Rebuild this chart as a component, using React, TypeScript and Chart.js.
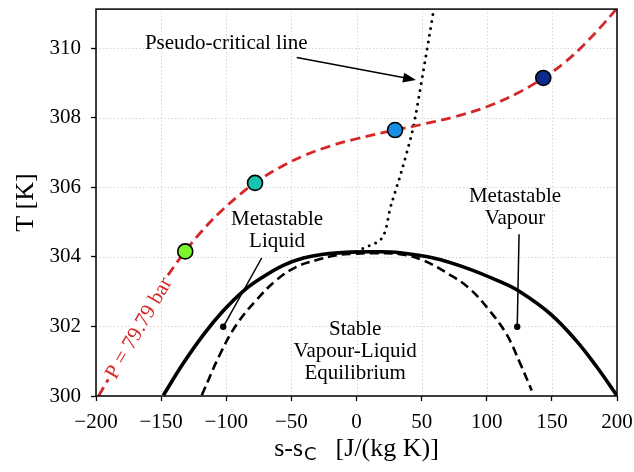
import React, { useEffect, useRef } from "react";
import { Chart, registerables } from "chart.js";

Chart.register(...registerables);

// ---- data ----
const isobarS = [-198, -185, -170, -155, -140, -131.5, -120, -105, -90, -77.9, -60, -40, -20, 0, 29.6, 50, 75, 100, 125, 143.4, 160, 175, 190, 200];
const isobarT = [300, 300.85, 301.93, 302.9, 303.73, 304.16, 304.69, 305.28, 305.78, 306.13, 306.55, 306.92, 307.19, 307.4, 307.65, 307.81, 308.03, 308.32, 308.74, 309.15, 309.6, 310.12, 310.72, 311.15];

const binodalS = [-148.3, -133, -117.6, -102.3, -86.9, -71.6, -56.2, -40.8, -25.5, -5, 15, 33.4, 59, 84.6, 110.2, 125.5, 148.6, 169, 184.4, 199.8];
const binodalT = [300.02, 300.94, 301.76, 302.45, 303.02, 303.43, 303.76, 303.97, 304.08, 304.14, 304.15, 304.12, 303.97, 303.68, 303.29, 303.0, 302.37, 301.58, 300.84, 300.02];

const spinodalS = [-118.8, -104.8, -92, -76.6, -61.3, -45.9, -30.6, -15.2, -2.5, 15, 33.4, 51.3, 72, 87.1, 102.5, 115.3, 125.5, 134.5];
const spinodalT = [300.02, 301.2, 302.06, 302.77, 303.34, 303.72, 303.91, 304.05, 304.09, 304.11, 304.08, 303.9, 303.48, 303.08, 302.44, 301.77, 300.95, 300.16];

const pseudoS = [0, 6.5, 13.4, 19, 22.5, 25.7, 29.5, 33.4, 38.5, 43.6, 51.3, 59, 60];
const pseudoT = [304.15, 304.27, 304.38, 304.52, 304.8, 305.37, 305.85, 306.32, 306.99, 307.74, 309.35, 311.06, 311.3];

const markerS = [-131.5, -77.9, 29.6, 143.4];
const markerT = [304.16, 306.13, 307.65, 309.15];
const markerColors = ["#7cf52a", "#17c3b0", "#178de3", "#0c2a8c"];

const xTicks = [-200, -150, -100, -50, 0, 50, 100, 150, 200];
const yTicks = [300, 302, 304, 306, 308, 310];

const isobarLabel = "P = 79.79 bar";
const isobarLabelPos = { s: -167.5, t: 301.96 };

const notes = [
  { lines: ["Pseudo-critical line"], s: -100, t: 309.97 },
  { lines: ["Metastable", "Liquid"], s: -61, t: 304.91 },
  { lines: ["Metastable", "Vapour"], s: 121.7, t: 305.59 },
  { lines: ["Stable", "Vapour-Liquid", "Equilibrium"], s: -1, t: 301.75 },
];

const arrowFrom = { s: -45.9, t: 309.74 };
const arrowTo = { s: 45.7, t: 309.09 };

const pointers = [
  { from: { s: -72.8, t: 303.97 }, to: { s: -102.3, t: 301.99 } },
  { from: { s: 124.8, t: 304.65 }, to: { s: 123.4, t: 301.99 } },
];

const toXY = (xs: number[], ys: number[]) => xs.map((x, i) => ({ x, y: ys[i] }));

const SERIF = "'Liberation Serif', 'Times New Roman', serif";

const overlayPlugin = {
  id: "overlay",
  beforeDatasetsDraw(chart: any) {
    const { ctx, chartArea, scales } = chart;
    const xs = scales.x, ys = scales.y;
    ctx.save();
    ctx.strokeStyle = "#cccccc";
    ctx.lineWidth = 1;
    ctx.setLineDash([1.2, 2.4]);
    xTicks.forEach((v) => {
      const px = Math.round(xs.getPixelForValue(v)) + 0.5;
      ctx.beginPath();
      ctx.moveTo(px, chartArea.top);
      ctx.lineTo(px, chartArea.bottom);
      ctx.stroke();
    });
    yTicks.forEach((v) => {
      const py = Math.round(ys.getPixelForValue(v)) + 0.5;
      ctx.beginPath();
      ctx.moveTo(chartArea.left, py);
      ctx.lineTo(chartArea.right, py);
      ctx.stroke();
    });
    ctx.restore();
  },
  afterDatasetsDraw(chart: any) {
    const { ctx, chartArea, scales } = chart;
    const xs = scales.x, ys = scales.y;
    const P = (p: { s: number; t: number }) => [xs.getPixelForValue(p.s), ys.getPixelForValue(p.t)];
    ctx.save();

    // isobar inline label
    const [lx, ly] = P(isobarLabelPos);
    ctx.save();
    ctx.translate(lx, ly);
    ctx.rotate((-60 * Math.PI) / 180);
    ctx.font = `21px ${SERIF}`;
    const w = ctx.measureText(isobarLabel).width;
    ctx.fillStyle = "#ffffff";
    ctx.fillRect(-w / 2 - 3, -6, w + 6, 12);
    ctx.fillStyle = "#d62728";
    ctx.textAlign = "center";
    ctx.textBaseline = "middle";
    ctx.fillText(isobarLabel, 0, 1);
    ctx.restore();

    // text notes
    ctx.fillStyle = "#000";
    ctx.font = `21px ${SERIF}`;
    ctx.textAlign = "center";
    ctx.textBaseline = "alphabetic";
    notes.forEach((n) => {
      const [nx, ny] = P(n);
      n.lines.forEach((l, i) => ctx.fillText(l, nx, ny + i * 22));
    });

    // arrow
    const [ax0, ay0] = P(arrowFrom);
    const [ax1, ay1] = P(arrowTo);
    const ang = Math.atan2(ay1 - ay0, ax1 - ax0);
    const hl = 13, hw = 5;
    ctx.strokeStyle = "#000";
    ctx.lineWidth = 1.6;
    ctx.beginPath();
    ctx.moveTo(ax0, ay0);
    ctx.lineTo(ax1 - Math.cos(ang) * hl * 0.8, ay1 - Math.sin(ang) * hl * 0.8);
    ctx.stroke();
    ctx.beginPath();
    ctx.moveTo(ax1, ay1);
    ctx.lineTo(ax1 - Math.cos(ang) * hl + Math.sin(ang) * hw, ay1 - Math.sin(ang) * hl - Math.cos(ang) * hw);
    ctx.lineTo(ax1 - Math.cos(ang) * hl - Math.sin(ang) * hw, ay1 - Math.sin(ang) * hl + Math.cos(ang) * hw);
    ctx.closePath();
    ctx.fillStyle = "#000";
    ctx.fill();

    // pointer lines with dots
    pointers.forEach((p) => {
      const [fx, fy] = P(p.from);
      const [tx, ty] = P(p.to);
      ctx.lineWidth = 1.5;
      ctx.beginPath();
      ctx.moveTo(fx, fy);
      ctx.lineTo(tx, ty);
      ctx.stroke();
      ctx.beginPath();
      ctx.arc(tx, ty, 3.2, 0, Math.PI * 2);
      ctx.fill();
    });

    // frame
    ctx.lineWidth = 1.5;
    ctx.strokeRect(chartArea.left, chartArea.top, chartArea.right - chartArea.left, chartArea.bottom - chartArea.top);

    // axis titles
    const cx = (chartArea.left + chartArea.right) / 2;
    const f1 = `26px ${SERIF}`;
    const f2 = `18px 'DejaVu Sans', sans-serif`;
    const a = "s-s", b = "C", c = "[J/(kg K)]";
    const gap = 20;
    ctx.font = f1;
    const wa = ctx.measureText(a).width;
    const wc = ctx.measureText(c).width;
    ctx.font = f2;
    const wb = ctx.measureText(b).width;
    const x0 = cx - (wa + wb + gap + wc) / 2;
    const base = chartArea.bottom + 60;
    ctx.textAlign = "left";
    ctx.textBaseline = "alphabetic";
    ctx.font = f1;
    ctx.fillText(a, x0, base);
    ctx.font = f2;
    ctx.fillText(b, x0 + wa + 1, base + 4);
    ctx.font = f1;
    ctx.fillText(c, x0 + wa + wb + gap, base);

    const cy = (chartArea.top + chartArea.bottom) / 2;
    ctx.save();
    ctx.translate(chartArea.left - 70, cy);
    ctx.rotate(-Math.PI / 2);
    ctx.textAlign = "center";
    ctx.textBaseline = "middle";
    ctx.font = f1;
    ctx.fillText("T [K]", 0, 0);
    ctx.restore();

    ctx.restore();
  },
};

export default function App() {
  const ref = useRef<HTMLCanvasElement>(null);
  useEffect(() => {
    if (!ref.current) return;
    const lineBase = { showLine: true, pointRadius: 0, pointHoverRadius: 0, fill: false, tension: 0.4 };
    const chart = new Chart(ref.current, {
      type: "scatter",
      data: {
        datasets: [
          {
            data: toXY(markerS, markerT),
            showLine: false,
            pointRadius: 7.5,
            pointHoverRadius: 7.5,
            pointBackgroundColor: markerColors,
            pointBorderColor: "#000",
            pointBorderWidth: 1.6,
          },
          { ...lineBase, data: toXY(isobarS, isobarT), borderColor: "#d62728", borderWidth: 2.8, borderDash: [10, 5.5] },
          { ...lineBase, tension: 0, cubicInterpolationMode: "monotone", data: toXY(pseudoS, pseudoT), borderColor: "#000", borderWidth: 3, borderDash: [0, 7], borderCapStyle: "round" },
          { ...lineBase, data: toXY(spinodalS, spinodalT), borderColor: "#000", borderWidth: 2.6, borderDash: [9, 5] },
          { ...lineBase, data: toXY(binodalS, binodalT), borderColor: "#000", borderWidth: 3.6 },
        ],
      },
      options: {
        responsive: false,
        animation: false,
        events: [],
        layout: { padding: { top: 4, right: 17, left: 0, bottom: 0 } },
        plugins: { legend: { display: false }, tooltip: { enabled: false } },
        scales: {
          x: {
            type: "linear",
            min: -200,
            max: 200,
            afterBuildTicks: (s: any) => { s.ticks = xTicks.map((v) => ({ value: v })); },
            afterFit: (s: any) => { s.height = 76; s.paddingLeft = 0; s.paddingRight = 0; },
            grid: { drawOnChartArea: false, drawTicks: true, tickLength: 5, tickColor: "#000", tickWidth: 1.3 },
            border: { display: false },
            ticks: {
              color: "#000",
              font: { family: SERIF, size: 21 },
              padding: 9,
              maxRotation: 0,
              callback: (v: any) => String(v).replace("-", "\u2212"),
            },
          },
          y: {
            type: "linear",
            min: 300,
            max: 311.13,
            afterBuildTicks: (s: any) => { s.ticks = yTicks.map((v) => ({ value: v })); },
            afterFit: (s: any) => { s.width = 96; s.paddingTop = 0; s.paddingBottom = 0; },
            grid: { drawOnChartArea: false, drawTicks: true, tickLength: 5, tickColor: "#000", tickWidth: 1.3 },
            border: { display: false },
            ticks: {
              color: "#000",
              font: { family: SERIF, size: 21 },
              padding: 10,
              callback: (v: any) => String(v),
            },
          },
        },
      },
      plugins: [overlayPlugin],
    });
    return () => chart.destroy();
  }, []);
  return (
    <div style={{ position: "fixed", left: 0, top: 0, width: 634, height: 472, background: "#fff" }}>
      <canvas ref={ref} width={634} height={472} style={{ width: 634, height: 472, display: "block" }} />
    </div>
  );
}
